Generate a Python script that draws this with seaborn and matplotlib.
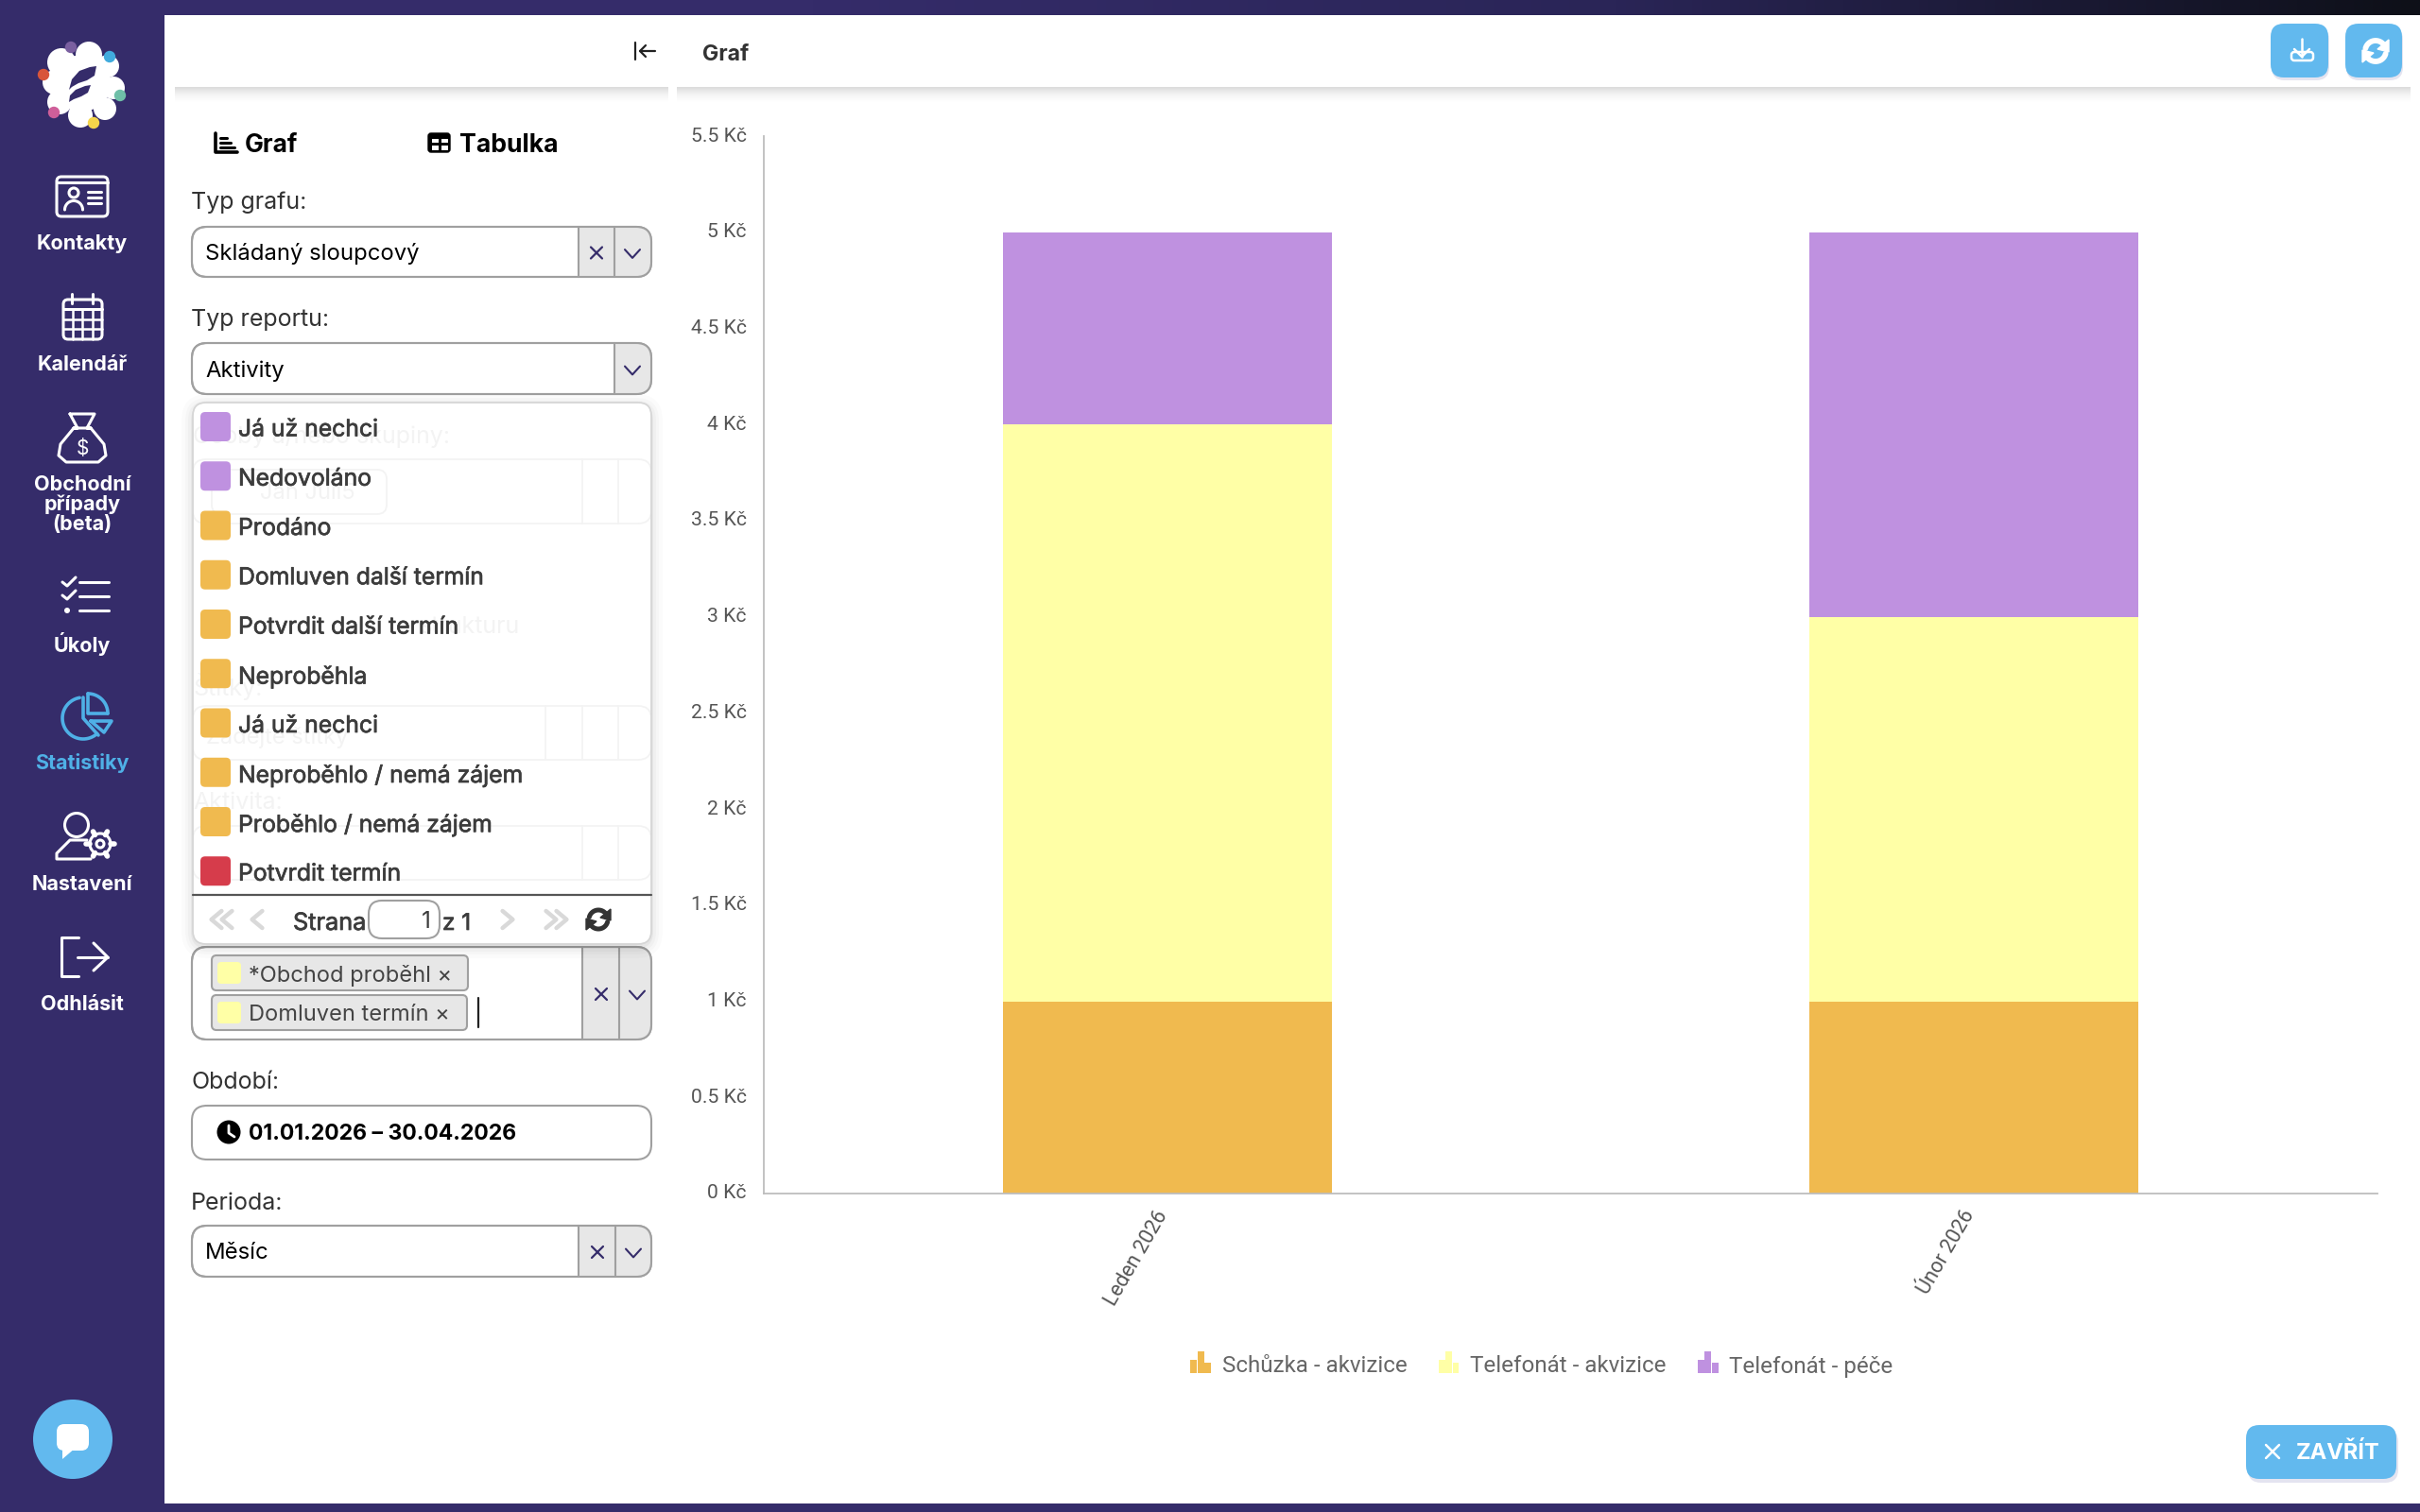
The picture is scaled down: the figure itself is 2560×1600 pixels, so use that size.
"""Statistiky screen: stacked monthly activity chart with the report filter panel."""

import numpy as np
import pandas as pd
import matplotlib
matplotlib.use("Agg")
import matplotlib.pyplot as plt
import matplotlib.patheffects as pe
from matplotlib.colors import LinearSegmentedColormap
from matplotlib.legend_handler import HandlerBase
from matplotlib.patches import Circle, FancyBboxPatch, Patch, Polygon, Rectangle
from matplotlib.transforms import ScaledTranslation
import seaborn as sns

# ── data ──────────────────────────────────────────────────────
MONTHS = ["Leden 2026", "Únor 2026"]
SERIES_NAMES = ["Schůzka - akvizice", "Telefonát - akvizice", "Telefonát - péče"]
SCHUZKA_AKVIZICE = [1, 1]
TELEFONAT_AKVIZICE = [3, 2]
TELEFONAT_PECE = [1, 2]
Y_TICKS = [0, 0.5, 1, 1.5, 2, 2.5, 3, 3.5, 4, 4.5, 5, 5.5]
Y_LABELS = ["0 Kč", "0.5 Kč", "1 Kč", "1.5 Kč", "2 Kč", "2.5 Kč", "3 Kč", "3.5 Kč",
            "4 Kč", "4.5 Kč", "5 Kč", "5.5 Kč"]

NAV_LABELS = ["Kontakty", "Kalendář", "Obchodní", "případy", "(beta)", "Úkoly",
              "Statistiky", "Nastavení", "Odhlásit"]
DROPDOWN_ITEMS = ["Já už nechci", "Nedovoláno", "Prodáno", "Domluven další termín",
                  "Potvrdit další termín", "Neproběhla", "Já už nechci",
                  "Neproběhlo / nemá zájem", "Proběhlo / nemá zájem", "Potvrdit termín"]

# ── style ─────────────────────────────────────────────────────
ORANGE, YELLOW, PURPLE = "#F0BA4F", "#FFFFA6", "#BF91E0"
RED = "#D63C4B"
DROPDOWN_COLORS = [PURPLE, PURPLE] + [ORANGE] * 7 + [RED]
NAVY = "#352C6A"
BLUE = "#62B9EE"
ICON_BLUE = "#4FB0E6"
BORDER = "#A0A0A0"
GREY_FILL = "#E7E7E7"
GHOST = "#F3F3F3"
UI_FONT = ["Inter", "DejaVu Sans"]

sns.set_theme(style="white")
plt.rcParams["font.family"] = ["Roboto", "DejaVu Sans"]

fig = plt.figure(figsize=(25.6, 16), dpi=100, facecolor="white")

# pixel canvas for the surrounding screen
ui = fig.add_axes([0, 0, 1, 1], zorder=0)
ui.set_xlim(0, 2560)
ui.set_ylim(1600, 0)
ui.axis("off")


def txt(x, y, s, size=17, color="#333333", weight="normal", ha="left", z=5, heavy=0):
    t = ui.text(x, y, s, fontsize=size, color=color, weight=weight, ha=ha,
                va="center_baseline", family=UI_FONT, zorder=z)
    if heavy:
        # the app font is a medium weight, Inter here is regular only
        t.set_path_effects([pe.withStroke(linewidth=heavy, foreground=color)])
    return t


def rbox(x0, y0, x1, y1, r=14, fc="white", ec=BORDER, lw=1.5, z=2, alpha=None):
    p = FancyBboxPatch((x0, y0), x1 - x0, y1 - y0, boxstyle=f"round,pad=0,rounding_size={r}",
                       fc=fc, ec=ec, lw=lw, zorder=z, alpha=alpha)
    ui.add_patch(p)
    return p


def line(xs, ys, color="white", lw=2.2, z=6):
    ui.plot(xs, ys, color=color, lw=lw, zorder=z, solid_capstyle="round", solid_joinstyle="round")


def arc(cx, cy, r, a0, a1, color="white", lw=2.2, z=6):
    a = np.radians(np.linspace(a0, a1, 40))
    line(cx + r * np.cos(a), cy - r * np.sin(a), color, lw, z)


def cross(cx, cy, s=6, color=NAVY, lw=1.6, z=6):
    line([cx - s, cx + s], [cy - s, cy + s], color, lw, z)
    line([cx - s, cx + s], [cy + s, cy - s], color, lw, z)


def chev_down(cx, cy, s=8, color=NAVY, lw=1.5, z=6):
    line([cx - s, cx, cx + s], [cy - s * 0.55, cy + s * 0.55, cy - s * 0.55], color, lw, z)


def chev_h(cx, cy, d=1, s=9, color="#D9D9D9", lw=3.2, z=8):
    line([cx - d * s * 0.6, cx + d * s * 0.6, cx - d * s * 0.6], [cy - s, cy, cy + s], color, lw, z)


def refresh(cx, cy, r, color="white", lw=4, z=8):
    arc(cx, cy, r, 35, 165, color, lw, z)
    arc(cx, cy, r, 215, 345, color, lw, z)
    ui.add_patch(Polygon([(cx + r + 3, cy - r - 1), (cx + r + 3, cy + 1), (cx + 2, cy - 2)], fc=color, ec=color, zorder=z))
    ui.add_patch(Polygon([(cx - r - 3, cy + r + 1), (cx - r - 3, cy - 1), (cx - 2, cy + 2)], fc=color, ec=color, zorder=z))


def select_box(y0, y1, seps, x0=203, x1=689, z=2, cross_at=None, chev_at=None):
    box = rbox(x0, y0, x1, y1, r=16, z=z)
    grey = Rectangle((seps[0], y0), x1 - seps[0], y1 - y0, fc=GREY_FILL, ec="none", zorder=z + 0.1)
    ui.add_patch(grey)
    grey.set_clip_path(box)
    rbox(x0, y0, x1, y1, r=16, fc="none", z=z + 0.2)
    for s in seps:
        line([s, s], [y0, y1], BORDER, 1.5, z + 0.3)
    cy = (y0 + y1) / 2
    if cross_at:
        cross(cross_at, cy + 1, z=z + 0.4)
    chev_down(chev_at, cy + 2, z=z + 0.4)


def bottom_shadow(x0, x1, y0=92, y1=108):
    grad = np.linspace(0, 1, 32).reshape(-1, 1)
    cm = LinearSegmentedColormap.from_list("sh", ["#DCDCDC", "#F4F4F4", "#FFFFFF"])
    ui.imshow(grad, extent=(x0, x1, y1, y0), cmap=cm, aspect="auto", zorder=1, interpolation="bilinear")


# ── frame ─────────────────────────────────────────────────────
strip = np.linspace(0, 1, 256).reshape(1, -1)
strip_cm = LinearSegmentedColormap.from_list("strip", [NAVY, NAVY, "#2A2557", "#0E1018"])
ui.imshow(strip, extent=(0, 2560, 16, 0), cmap=strip_cm, aspect="auto", zorder=1)
ui.add_patch(Rectangle((0, 0), 174, 1600, fc=NAVY, ec="none", zorder=1.5))
ui.add_patch(Rectangle((0, 1591), 2560, 9, fc=NAVY, ec="none", zorder=1.5))
bottom_shadow(185, 707)
bottom_shadow(716, 2550)
ui.set_xlim(0, 2560)
ui.set_ylim(1600, 0)

# ── sidebar ───────────────────────────────────────────────────
for (dx, dy, rr) in [(0, 0, 30), (-22, -22, 15), (7, -30, 14), (27, -18, 12), (33, 5, 12),
                     (24, 27, 12), (-2, 34, 13), (-24, 20, 13), (-29, -1, 13)]:
    ui.add_patch(Circle((87 + dx, 88 + dy), rr, fc="white", ec="none", zorder=3))
ui.add_patch(Polygon([(73, 95), (76, 84), (84, 75), (95, 71), (102, 70), (100, 80), (92, 85), (83, 88), (76, 92)],
                     fc=NAVY, ec="none", zorder=4))
ui.add_patch(Polygon([(73, 108), (74, 101), (80, 95), (90, 91), (96, 90), (93, 98), (86, 102), (78, 105)],
                     fc=NAVY, ec="none", zorder=4))
for (dx, dy, c) in [(75, 50, "#7A5FA0"), (116, 60, "#41ABDD"), (46, 79, "#D8553A"),
                    (127, 101, "#6FBFA8"), (57, 119, "#CF5F9A"), (99, 130, "#F5D54B")]:
    ui.add_patch(Circle((dx, dy), 6.2, fc=c, ec="none", zorder=4))

nav_y = [256, 384, 511, 532, 553, 679, 806, 934, 1061]
for name, y in zip(NAV_LABELS, nav_y):
    txt(87, y, name, size=15.5, color=ICON_BLUE if name == "Statistiky" else "white", weight="bold", ha="center")

# contact card
rbox(60, 187, 114, 229, r=5, fc="none", ec="white", lw=2.2, z=5)
line([60, 114], [193, 193])
ui.add_patch(Circle((78, 204), 5, fc="none", ec="white", lw=2.2, zorder=6))
arc(78, 222, 9.5, 0, 180)
for y in (203, 209, 215):
    line([93, 107], [y, y])
# calendar
rbox(67, 317, 108, 359, r=5, fc="none", ec="white", lw=2.2, z=5)
line([76, 76], [311, 321])
line([98, 98], [311, 321])
line([67, 108], [327, 327])
for y in (338, 348):
    line([67, 108], [y, y], lw=1.8)
for x in (77, 87, 98):
    line([x, x], [327, 359], lw=1.8)
# money bag
line([74, 100, 92, 96, 78, 82, 74], [438, 438, 453, 453, 453, 453, 438])
line([78, 64, 62, 70, 104, 112, 110, 96], [453, 470, 482, 489, 489, 482, 470, 453])
txt(87, 473, "$", size=15, color="white", ha="center")
# tasks
for y in (617, 631):
    line([66, 71, 80], [y - 1, y + 3, y - 6])
ui.add_patch(Circle((71, 646), 3, fc="white", ec="none", zorder=6))
for y in (616, 631, 646):
    line([84, 115], [y, y])
# pie
arc(88, 760, 22, 100, 312, ICON_BLUE, 2.6)
line([88, 88, 104], [738, 760, 778], ICON_BLUE, 2.6)
arc(93, 755, 21, 0, 90, ICON_BLUE, 2.6)
line([93, 93, 114], [734, 755, 755], ICON_BLUE, 2.6)
line([96, 118, 110, 96], [763, 763, 775, 763], ICON_BLUE, 2.6)
# person + gear
ui.add_patch(Circle((81, 873), 12.5, fc="none", ec="white", lw=2.2, zorder=6))
line([96, 60, 60, 74, 92], [909, 909, 903, 889, 889])
ui.add_patch(Circle((106, 893), 4, fc="none", ec="white", lw=2.2, zorder=6))
ui.add_patch(Circle((106, 893), 11, fc="none", ec="white", lw=2.2, zorder=6))
for a in np.radians(np.arange(0, 360, 60)):
    line([106 + 11 * np.cos(a), 106 + 15 * np.cos(a)], [893 + 11 * np.sin(a), 893 + 15 * np.sin(a)], lw=4)
# logout
line([83, 65, 65, 83], [992, 992, 1033, 1033])
line([82, 114], [1013, 1013])
line([99, 114, 99], [998, 1013, 1027])

ui.add_patch(Circle((77, 1523), 42, fc=BLUE, ec="none", zorder=3))
rbox(60, 1507, 94, 1535, r=8, fc="white", ec="none", z=4)
ui.add_patch(Polygon([(66, 1532), (66, 1544), (80, 1532)], fc="white", ec="none", zorder=4))

# ── panel header ──────────────────────────────────────────────
line([672, 672], [45, 63], "#222222", 1.6)
line([677, 693], [54, 54], "#222222", 1.6)
line([683, 677, 683], [48, 54, 60], "#222222", 1.6)

# tab icons
line([228, 228, 251], [141, 161, 161], "black", 2.6)
for y, x1 in ((146, 240), (151, 244), (156, 248)):
    line([233, x1], [y, y], "black", 2.2)
txt(259, 151, "Graf", size=19, color="black", weight="bold")
rbox(453, 141, 476, 161, r=3, fc="black", ec="black", lw=1, z=5)
for (x0, y0) in ((456.5, 146.5), (466.5, 146.5), (456.5, 154), (466.5, 154)):
    ui.add_patch(Rectangle((x0, y0), 7, 4.5, fc="white", ec="none", zorder=6))
txt(486, 151, "Tabulka", size=19.2, color="black", weight="bold")

txt(202, 212, "Typ grafu:", size=18, color="#333333")
select_box(240, 293, [612, 650], cross_at=631, chev_at=669)
txt(217, 266, "Skládaný sloupcový", size=17.2, color="black")
txt(202, 336, "Typ reportu:", size=18, color="#333333")
select_box(363, 417, [650], chev_at=669)
txt(217, 390, "Aktivity", size=17.2, color="black")

# ── dropdown ──────────────────────────────────────────────────
for grow, a in ((12, 0.015), (8, 0.02), (5, 0.025), (2, 0.04)):
    rbox(204 - grow, 426 - grow + 3, 689 + grow, 999 + grow + 3, r=16 + grow, fc="black", ec="none", z=2.5, alpha=a)
rbox(204, 426, 689, 999, r=14, fc="white", ec="none", z=3)

# ghosted controls under the dropdown
txt(204, 460, "Osoby a/nebo skupiny:", size=18, color=GHOST, z=3.2)
for (y0, y1, seps) in ((486, 554, [616, 654]), (747, 804, [577, 616, 654]), (874, 931, [616, 654])):
    rbox(204, y0, 689, y1, r=14, fc="none", ec=GHOST, lw=1.3, z=3.1)
    for s in seps:
        line([s, s], [y0, y1], GHOST, 1.3, 3.1)
rbox(224, 497, 409, 544, r=10, fc="none", ec=GHOST, lw=1.3, z=3.1)
txt(275, 520, "Jan Juli5", size=17, color=GHOST, z=3.2)
txt(550, 661, "strukturu", size=18, color=GHOST, ha="right", z=3.2)
txt(204, 724, "Štítky:", size=18, color=GHOST, z=3.2)
txt(218, 778, "Zadejte štítky", size=17, color=GHOST, z=3.2)
txt(204, 847, "Aktivita:", size=18, color=GHOST, z=3.2)
rbox(204, 426, 689, 999, r=14, fc="none", ec="#D6D6D6", lw=1.3, z=3.3)

item_y = np.arange(len(DROPDOWN_ITEMS)) * 52.25 + 451.5
for name, c, y in zip(DROPDOWN_ITEMS, DROPDOWN_COLORS, item_y):
    rbox(212, y - 15.5, 244, y + 15.5, r=5, fc=c, ec="none", z=4)
    txt(252, y + 1, name, size=17.8, color="#3C3C3C", z=5, heavy=0.5)

line([204, 689], [947, 947], "#555555", 1.6, 5)
for x, d in ((229, -1), (240, -1)):
    chev_h(x, 973, d)
chev_h(272, 973, -1)
txt(310, 975, "Strana", size=18.2, color="#3C3C3C", heavy=0.5)
rbox(390, 953, 465, 993, r=14, fc="white", ec=BORDER, lw=1.5, z=4)
txt(456, 973, "1", size=17.5, color="#3C3C3C", ha="right")
txt(468, 975, "z 1", size=17.5, color="#3C3C3C", heavy=0.5)
chev_h(537, 973, 1)
for x, d in ((583, 1), (594, 1)):
    chev_h(x, 973, d)
refresh(633, 973, 10, "#333333", 3.6)

# ── selected activities ───────────────────────────────────────
select_box(1002, 1100, [616, 655], cross_at=636, chev_at=674)
for (y0, y1, x1, label) in ((1011, 1048, 495, "*Obchod proběhl ×"), (1053, 1090, 494, "Domluven termín ×")):
    rbox(224, y0, x1, y1, r=5, fc=GREY_FILL, ec=BORDER, lw=1.5, z=4)
    rbox(230, y0 + 7, 255, y1 - 7, r=4, fc=YELLOW, ec="none", z=5)
    txt(263, (y0 + y1) / 2, label, size=17, color="#444444")
line([506, 506], [1056, 1087], "#222222", 1.6)

txt(202, 1143, "Období:", size=18, color="#333333")
rbox(203, 1170, 689, 1227, r=16, z=2)
ui.add_patch(Circle((242, 1198), 12.5, fc="black", ec="none", zorder=5))
line([242, 242, 248], [1191, 1199, 1203], "white", 2)
txt(263, 1198, "01.01.2026 – 30.04.2026", size=16.6, color="black", weight="bold")
txt(202, 1271, "Perioda:", size=18, color="#333333")
select_box(1297, 1351, [612, 651], cross_at=632, chev_at=670)
txt(217, 1324, "Měsíc", size=17.2, color="black")

# ── chart header and buttons ──────────────────────────────────
txt(743, 55, "Graf", size=16.6, color="#333333", weight="bold")
for x0, x1 in ((2402, 2463), (2481, 2541)):
    rbox(x0 + 1, 28, x1 + 1, 85, r=14, fc="#E4E4F0", ec="none", z=2)
    rbox(x0, 25, x1, 82, r=14, fc=BLUE, ec="none", z=3)
line([2435, 2435], [41, 60], lw=1.8)
line([2427, 2435, 2443], [52, 60, 52], lw=1.8)
rbox(2424, 55, 2447, 64, r=3, fc="none", ec="white", lw=1.8, z=6)
refresh(2513, 54, 11, "white", 4.2)

rbox(2378, 1512, 2537, 1569, r=14, fc="#E4E4F0", ec="none", z=2)
rbox(2376, 1508, 2535, 1565, r=14, fc=BLUE, ec="none", z=3)
cross(2404, 1536, s=7, color="white", lw=1.8)
txt(2429, 1535, "ZAVŘÍT", size=17, color="white", weight="bold")

# ── stacked bars ──────────────────────────────────────────────
ax = fig.add_axes([808 / 2560, (1600 - 1263) / 1600, 1707 / 2560, 1119 / 1600], zorder=1)
ax.patch.set_alpha(0)

stack = pd.DataFrame({"month": MONTHS, SERIES_NAMES[0]: SCHUZKA_AKVIZICE,
                      SERIES_NAMES[1]: TELEFONAT_AKVIZICE, SERIES_NAMES[2]: TELEFONAT_PECE})
cumulative = stack.set_index("month")[SERIES_NAMES].cumsum(axis=1).reset_index()
colors = [ORANGE, YELLOW, PURPLE]
# tallest first so that the lower segments paint over it
for name, c in reversed(list(zip(SERIES_NAMES, colors))):
    sns.barplot(data=cumulative, x="month", y=name, color=c, saturation=1, width=0.408, ax=ax, linewidth=0)

ax.set_xlim(-0.5, 1.5)
ax.set_ylim(0, 5.5)
ax.set_xlabel("")
ax.set_ylabel("")
ax.set_yticks(Y_TICKS, Y_LABELS)
ax.tick_params(axis="y", length=0, labelcolor="#555555", labelsize=15.2, pad=13)
ax.tick_params(axis="x", length=0, labelcolor="#555555", labelsize=15.6, pad=14)
shift_left = ScaledTranslation(-4 / 100, 0, fig.dpi_scale_trans)
shift_up = ScaledTranslation(0, 2 / 100, fig.dpi_scale_trans)
for t in ax.get_xticklabels():
    t.set_rotation(60)
    t.set_ha("right")
    t.set_va("center")
    t.set_rotation_mode("anchor")
    t.set_transform(t.get_transform() + shift_left)
for t in ax.get_yticklabels():
    t.set_transform(t.get_transform() + shift_up)
sns.despine(ax=ax)
for side in ("left", "bottom"):
    ax.spines[side].set_color("#BDBDBD")
    ax.spines[side].set_linewidth(1.3)


class BarGlyph(HandlerBase):
    """Little three-bar legend icon."""

    def create_artists(self, legend, orig, xd, yd, width, height, fontsize, trans):
        bw = width / 3
        out = []
        for i, h in enumerate((0.58, 1.0, 0.48)):
            out.append(Rectangle((-xd + i * bw, -yd), bw * 0.92, height * 1.35 * h,
                                 fc=orig.get_facecolor(), ec="none", transform=trans))
        return out


handles = [Patch(fc=c, label=n) for n, c in zip(SERIES_NAMES, colors)]
fig.legend(handles=handles, ncol=3, frameon=False, loc="center", bbox_to_anchor=(1631 / 2560, 1 - 1446 / 1600),
           handler_map={Patch: BarGlyph()}, fontsize=17.4, labelcolor="#666666", handlelength=0.92, handleheight=0.71,
           handletextpad=0.46, columnspacing=1.38, borderpad=0, borderaxespad=0)

fig.savefig("out.png", dpi=100)
